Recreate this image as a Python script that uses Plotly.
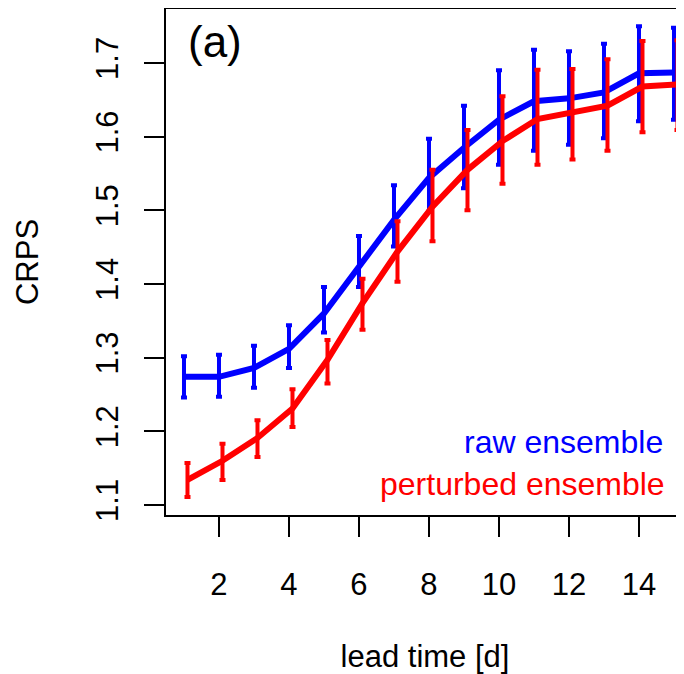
import plotly.graph_objects as go

lead_time = list(range(1, 16))

raw_mean = [1.274, 1.274, 1.286, 1.312, 1.360, 1.424, 1.487, 1.544, 1.585, 1.623, 1.648, 1.652, 1.660, 1.686, 1.687]
raw_upper = [1.302, 1.304, 1.316, 1.344, 1.396, 1.465, 1.534, 1.597, 1.642, 1.690, 1.718, 1.716, 1.726, 1.750, 1.748]
raw_lower = [1.246, 1.247, 1.259, 1.286, 1.334, 1.396, 1.451, 1.498, 1.530, 1.562, 1.581, 1.589, 1.598, 1.621, 1.623]

pert_mean = [1.134, 1.160, 1.191, 1.231, 1.297, 1.374, 1.444, 1.505, 1.555, 1.594, 1.624, 1.632, 1.642, 1.668, 1.671]
pert_upper = [1.157, 1.183, 1.215, 1.257, 1.324, 1.407, 1.485, 1.555, 1.609, 1.655, 1.691, 1.692, 1.705, 1.730, 1.731]
pert_lower = [1.111, 1.134, 1.165, 1.206, 1.265, 1.338, 1.403, 1.458, 1.500, 1.536, 1.562, 1.569, 1.581, 1.606, 1.609]

pert_offset = 0.1
x_ticks = [2, 4, 6, 8, 10, 12, 14]
y_ticks = [1.1, 1.2, 1.3, 1.4, 1.5, 1.6, 1.7]

FONT = "Liberation Sans, Arial, Helvetica, sans-serif"
BLUE = "#0000ff"
RED = "#ff0000"

def err(mean, up, lo):
    return dict(
        type="data", symmetric=False,
        array=[u - m for u, m in zip(up, mean)],
        arrayminus=[m - l for m, l in zip(mean, lo)],
        thickness=4, width=3,
    )

fig = go.Figure()
fig.add_trace(go.Scatter(
    x=lead_time, y=raw_mean, mode="lines", name="raw ensemble",
    line=dict(color=BLUE, width=6),
    error_y=dict(color=BLUE, **err(raw_mean, raw_upper, raw_lower)),
))
fig.add_trace(go.Scatter(
    x=[t + pert_offset for t in lead_time], y=pert_mean, mode="lines", name="perturbed ensemble",
    line=dict(color=RED, width=6),
    error_y=dict(color=RED, **err(pert_mean, pert_upper, pert_lower)),
))

# the page body has an 8px margin, so the figure is 8px smaller and margins compensate
fig.update_layout(
    width=676, height=666,
    margin=dict(l=158, r=0, t=1, b=159),
    paper_bgcolor="white", plot_bgcolor="white",
    showlegend=False,
    font=dict(family=FONT, size=31, color="black"),
    xaxis=dict(
        range=[0.486, 15.286], tickvals=x_ticks, ticktext=[str(v) for v in x_ticks],
        showgrid=False, zeroline=False,
        showline=True, linecolor="black", linewidth=2, mirror=True,
        ticks="outside", ticklen=20, tickwidth=2, tickcolor="black",
        ticklabelstandoff=21,
        tickfont=dict(size=31),
        title=dict(text="lead time [d]", font=dict(size=31), standoff=44),
        automargin=False,
    ),
    yaxis=dict(
        range=[1.0864, 1.7733], tickvals=y_ticks, ticktext=[f"{v:.1f}" for v in y_ticks],
        showgrid=False, zeroline=False,
        showline=True, linecolor="black", linewidth=2, mirror=False,
        ticks="outside", ticklen=20, tickwidth=2, tickcolor="black",
        tickangle=-90, ticklabelstandoff=14,
        tickfont=dict(size=31),
        title=dict(text="CRPS", font=dict(size=31), standoff=42),
        automargin=False,
    ),
    annotations=[
        dict(x=1.06, y=1.729, xref="x", yref="y", text="(a)", showarrow=False,
             xanchor="left", yanchor="middle", font=dict(size=44, color="black")),
        dict(x=14.74, y=1.186, xref="x", yref="y", text="raw ensemble", showarrow=False,
             xanchor="right", yanchor="middle", font=dict(size=32, color=BLUE)),
        dict(x=14.8, y=1.128, xref="x", yref="y", text="perturbed ensemble", showarrow=False,
             xanchor="right", yanchor="middle", font=dict(size=32, color=RED)),
    ],
)

fig.write_html("out.html")
